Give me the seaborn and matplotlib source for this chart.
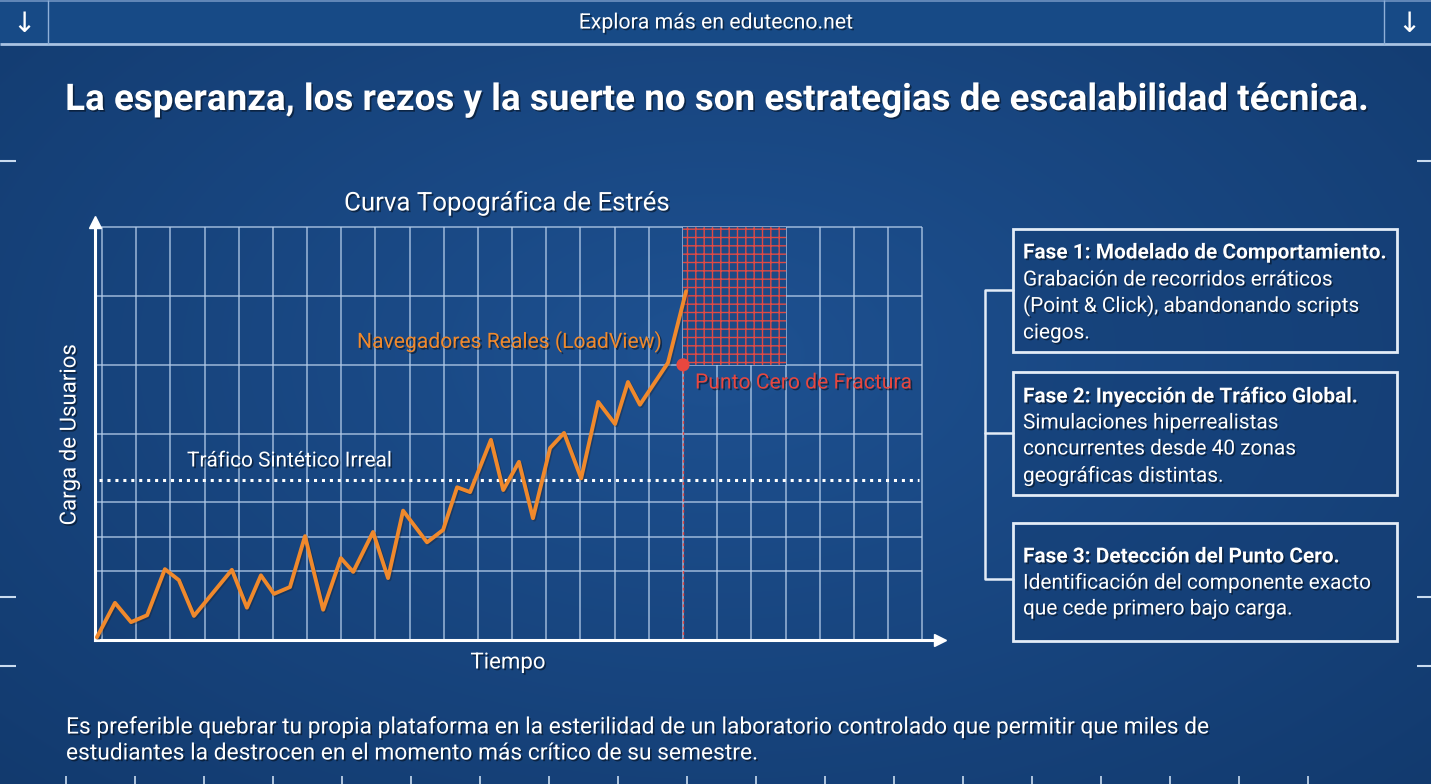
import numpy as np
import seaborn as sns
import matplotlib.pyplot as plt
import matplotlib.patheffects as pe
from matplotlib.patches import Rectangle

# --- Datos ---
tiempo = [-0.15, 0.38, 0.85, 1.32, 1.84, 2.25, 2.69, 3.80, 4.24, 4.65, 5.03, 5.50,
          5.94, 6.47, 6.99, 7.35, 7.93, 8.37, 8.81, 9.51, 9.98, 10.39, 10.77, 11.38,
          11.74, 12.20, 12.61, 13.11, 13.52, 14.02, 14.52, 15.01, 15.39, 15.74, 16.56, 17.09]
carga = [0.04, 0.54, 0.26, 0.36, 1.03, 0.87, 0.35, 1.02, 0.47, 0.94, 0.67, 0.77,
         1.51, 0.44, 1.19, 0.99, 1.57, 0.90, 1.88, 1.42, 1.60, 2.22, 2.15, 2.91,
         2.18, 2.59, 1.77, 2.79, 3.01, 2.35, 3.46, 3.14, 3.75, 3.42, 4.03, 5.07]
rejilla_x = list(range(0, 25))
rejilla_y = [1, 1.5, 2, 3, 4, 5, 6]
nivel_sintetico = 2.33
fractura_x = 17.0
fractura_y = 4.0
zona_x = [17, 20]
zona_y = [4, 6]

titulo = "La esperanza, los rezos y la suerte no son estrategias de escalabilidad técnica."
cabecera = "Explora más en edutecno.net"
titulo_grafico = "Curva Topográfica de Estrés"
etiqueta_x = "Tiempo"
etiqueta_y = "Carga de Usuarios"
lbl_real = "Navegadores Reales (LoadView)"
lbl_sintetico = "Tráfico Sintético Irreal"
lbl_fractura = "Punto Cero de Fractura"
fases = [
    ["Fase 1: Modelado de Comportamiento.", "Grabación de recorridos erráticos",
     "(Point & Click), abandonando scripts", "ciegos."],
    ["Fase 2: Inyección de Tráfico Global.", "Simulaciones hiperrealistas",
     "concurrentes desde 40 zonas", "geográficas distintas."],
    ["Fase 3: Detección del Punto Cero.", "Identificación del componente exacto",
     "que cede primero bajo carga."],
]
pie = ["Es preferible quebrar tu propia plataforma en la esterilidad de un laboratorio controlado que permitir que miles de",
       "estudiantes la destrocen en el momento más crítico de su semestre."]

W, H = 1431, 784
NARANJA = "#f0892c"
ROJO = "#e8473f"
REJILLA = "#b3cbe8"

sns.set_theme(style="white")
plt.rcParams['font.family'] = ['Roboto', 'DejaVu Sans']
plt.rcParams['hatch.linewidth'] = 1.0

fig = plt.figure(figsize=(W / 100, H / 100), dpi=100)

# Fondo con degradado
bg = fig.add_axes([0, 0, 1, 1], zorder=0)
bg.set_xlim(0, W)
bg.set_ylim(H, 0)
bg.axis('off')
yy, xx = np.mgrid[0:H:2, 0:W:2]
r = np.sqrt(((xx - W * 0.5) / (W * 0.55)) ** 2 + ((yy - H * 0.45) / (H * 0.6)) ** 2)
t = np.clip(r / 1.3, 0, 1)[..., None]
centro = np.array([0x1e, 0x51, 0x91]) / 255
borde = np.array([0x12, 0x3a, 0x6e]) / 255
img = centro * (1 - t) + borde * t
bg.imshow(img, extent=(0, W, H, 0), aspect='auto', interpolation='bilinear')

# Barra superior
bg.add_patch(Rectangle((0, 0), W, 44, color="#174a86", zorder=1))
bg.hlines([1], 0, W, colors="#6f93c2", lw=1.2, zorder=2)
bg.hlines([44], 0, W, colors="#a9c3e3", lw=2, zorder=2)
bg.vlines([48, 1384], 0, 44, colors="#8fb0d8", lw=1, zorder=2)

# Marcas en los bordes
bg.hlines([161, 597, 666], 0, 16, colors="#c9dbef", lw=1.5)
bg.hlines([161, 597, 666], W - 14, W, colors="#c9dbef", lw=1.5)
bg.vlines(np.arange(66, 1310, 69), 776, H, colors="#c9dbef", lw=1.2)

# Cajas de fases
cajas = [(229, 352), (372, 495), (523, 641)]
for top, bot in cajas:
    bg.add_patch(Rectangle((1013, top), 384, bot - top, facecolor="#153f76", alpha=0.55,
                           edgecolor="none", zorder=2))
    bg.add_patch(Rectangle((1013, top), 384, bot - top, fill=False,
                           edgecolor="#e3ecf7", lw=2, zorder=3))
bg.plot([1013, 985, 985, 1013], [290, 290, 579, 579], color="#e3ecf7", lw=1.8, zorder=3)
bg.plot([985, 1013], [433, 433], color="#e3ecf7", lw=1.8, zorder=3)

# Área del gráfico
ax = fig.add_axes([95 / W, (H - 640) / H, 845 / W, 418 / H], zorder=1)
ax.patch.set_alpha(0)
ax.set_xlim(-0.205, 24.52)
ax.set_ylim(0, 6.076)
ax.set_xticks([])
ax.set_yticks([])
for lado in ['top', 'right']:
    ax.spines[lado].set_visible(False)
for lado in ['left', 'bottom']:
    ax.spines[lado].set_color('white')
    ax.spines[lado].set_linewidth(2.2)
ax.plot(1, 0, '>', color='white', ms=9, transform=ax.transAxes, clip_on=False)
ax.plot(0, 1, '^', color='white', ms=9, transform=ax.transAxes, clip_on=False)

ax.vlines(rejilla_x, 0, 6, colors=REJILLA, lw=1.1, alpha=0.85, zorder=1)
ax.hlines(rejilla_y, -0.205, 24, colors=REJILLA, lw=1.1, alpha=0.85, zorder=1)

# Zona de fractura con trama roja
ax.add_patch(Rectangle((zona_x[0], zona_y[0]), zona_x[1] - zona_x[0], zona_y[1] - zona_y[0],
                       facecolor="#1c4a86", edgecolor="#e04a44", hatch='++', lw=0, zorder=2))
ax.vlines(fractura_x, 0, fractura_y, colors=ROJO, linestyles=(0, (2, 2)), lw=1, zorder=2)

ax.hlines(nivel_sintetico, -0.1, 23.9, colors='white', linestyles=(0, (1, 1.6)), lw=2.2, zorder=3)

sns.lineplot(x=tiempo, y=carga, color=NARANJA, lw=2.8, ax=ax, zorder=4, sort=False,
             path_effects=[pe.SimpleLineShadow(offset=(1, -1), alpha=0.3), pe.Normal()])
sns.scatterplot(x=[fractura_x], y=[fractura_y], color=ROJO, s=90, edgecolor='none', ax=ax, zorder=5)

sombra = [pe.withSimplePatchShadow(offset=(1.2, -1.2), shadow_rgbFace='black', alpha=0.45)]


def texto(x, y, s, **kw):
    kw.setdefault('color', 'white')
    kw.setdefault('va', 'center')
    kw.setdefault('path_effects', sombra)
    fig.text(x / W, 1 - y / H, s, **kw)


texto(716, 23, cabecera, ha='center', fontsize=15.3)
texto(24, 24, "↓", ha='center', fontsize=20, family=['DejaVu Sans'], path_effects=None)
texto(1409, 24, "↓", ha='center', fontsize=20, family=['DejaVu Sans'], path_effects=None)
texto(716, 100, titulo, ha='center', fontsize=26.5, fontweight='bold')

texto(507, 203, titulo_grafico, ha='center', fontsize=18.6)
texto(357, 342, lbl_real, ha='left', fontsize=15.2, color=NARANJA)
texto(187, 461, lbl_sintetico, ha='left', fontsize=15)
texto(695, 383, lbl_fractura, ha='left', fontsize=15.2, color=ROJO)
texto(70, 435, etiqueta_y, ha='center', fontsize=16, rotation=90)
texto(508, 663, etiqueta_x, ha='center', fontsize=16)

lineas_y = [[253, 280, 306, 333], [397, 423, 449, 476], [557, 583, 609]]
for fase, ys in zip(fases, lineas_y):
    for i, (linea, y) in enumerate(zip(fase, ys)):
        texto(1023, y, linea, ha='left', fontsize=15,
              fontweight='bold' if i == 0 else 'normal')

texto(66, 727, pie[0], ha='left', fontsize=16.4)
texto(66, 753, pie[1], ha='left', fontsize=16.4)

fig.savefig("out.png", dpi=100)
plt.close(fig)
